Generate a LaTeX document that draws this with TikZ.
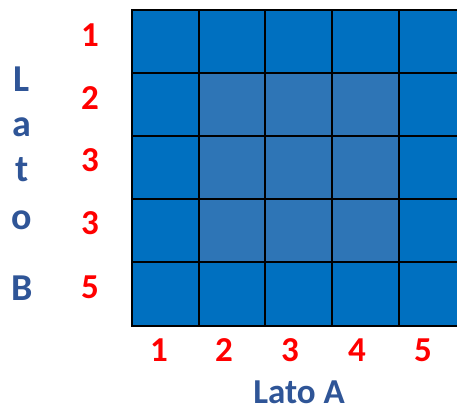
\documentclass[tikz,border=0pt]{standalone}
\usepackage{fontspec}
\setmainfont{Carlito}
\definecolor{cellblue}{HTML}{0070C0}
\definecolor{innerblue}{HTML}{2E75B6}
\definecolor{labblue}{HTML}{2F5597}
\definecolor{numred}{HTML}{FF0000}
\begin{document}
\begin{tikzpicture}[x=1pt,y=-1pt,
  cell/.style={draw=black,line width=2pt,fill=cellblue,inner sep=0pt,
    minimum width=66.7pt,minimum height=63.1pt},
  inner/.style={cell,fill=innerblue},
  num/.style={anchor=base,inner sep=0pt,text=numred,font=\fontsize{35}{40}\selectfont\bfseries},
  lab/.style={anchor=base,inner sep=0pt,text depth=0pt,text=labblue,font=\fontsize{35}{40}\selectfont\bfseries},
  vlab/.style={anchor=base,inner sep=0pt,text=labblue,font=\fontsize{38}{40}\selectfont\bfseries}]
\useasboundingbox (0,0) rectangle (457,411);
\clip (0,0) rectangle (457,411);
\foreach \i in {1,...,5}{
  \foreach \j in {1,...,5}{
    \pgfmathsetmacro{\cx}{132+66.7*(\j-0.5)}
    \pgfmathsetmacro{\cy}{10+63.1*(\i-0.5)}
    \pgfmathtruncatemacro{\isin}{(\i>1)&&(\i<5)&&(\j>1)&&(\j<5)}
    \ifnum\isin=1
      \node[inner] (c-\i-\j) at (\cx,\cy) {};
    \else
      \node[cell] (c-\i-\j) at (\cx,\cy) {};
    \fi
  }
}
% left numbers
\node[num] (l1) at (90,46.7) {1};
\node[num] (l2) at (90,110) {2};
\node[num] (l3) at (90,172) {3};
\node[num] (l4) at (90,235) {3};
\node[num] (l5) at (90,298) {5};
% bottom numbers
\node[num] (b1) at (159,361.7) {1};
\node[num] (b2) at (224,361.7) {2};
\node[num] (b3) at (290,361.7) {3};
\node[num] (b4) at (357,361.7) {4};
\node[num] (b5) at (423,361.7) {5};
% labels
\node[lab] (latoA) at (299,403) {Lato A};
\node[vlab] (vL) at (22,91.7) {L};
\node[vlab] (va) at (22,137) {a};
\node[vlab] (vt) at (22,182) {t};
\node[vlab] (vo) at (22,230) {o};
\node[vlab] (vB) at (22,300) {B};
\end{tikzpicture}
\end{document}
